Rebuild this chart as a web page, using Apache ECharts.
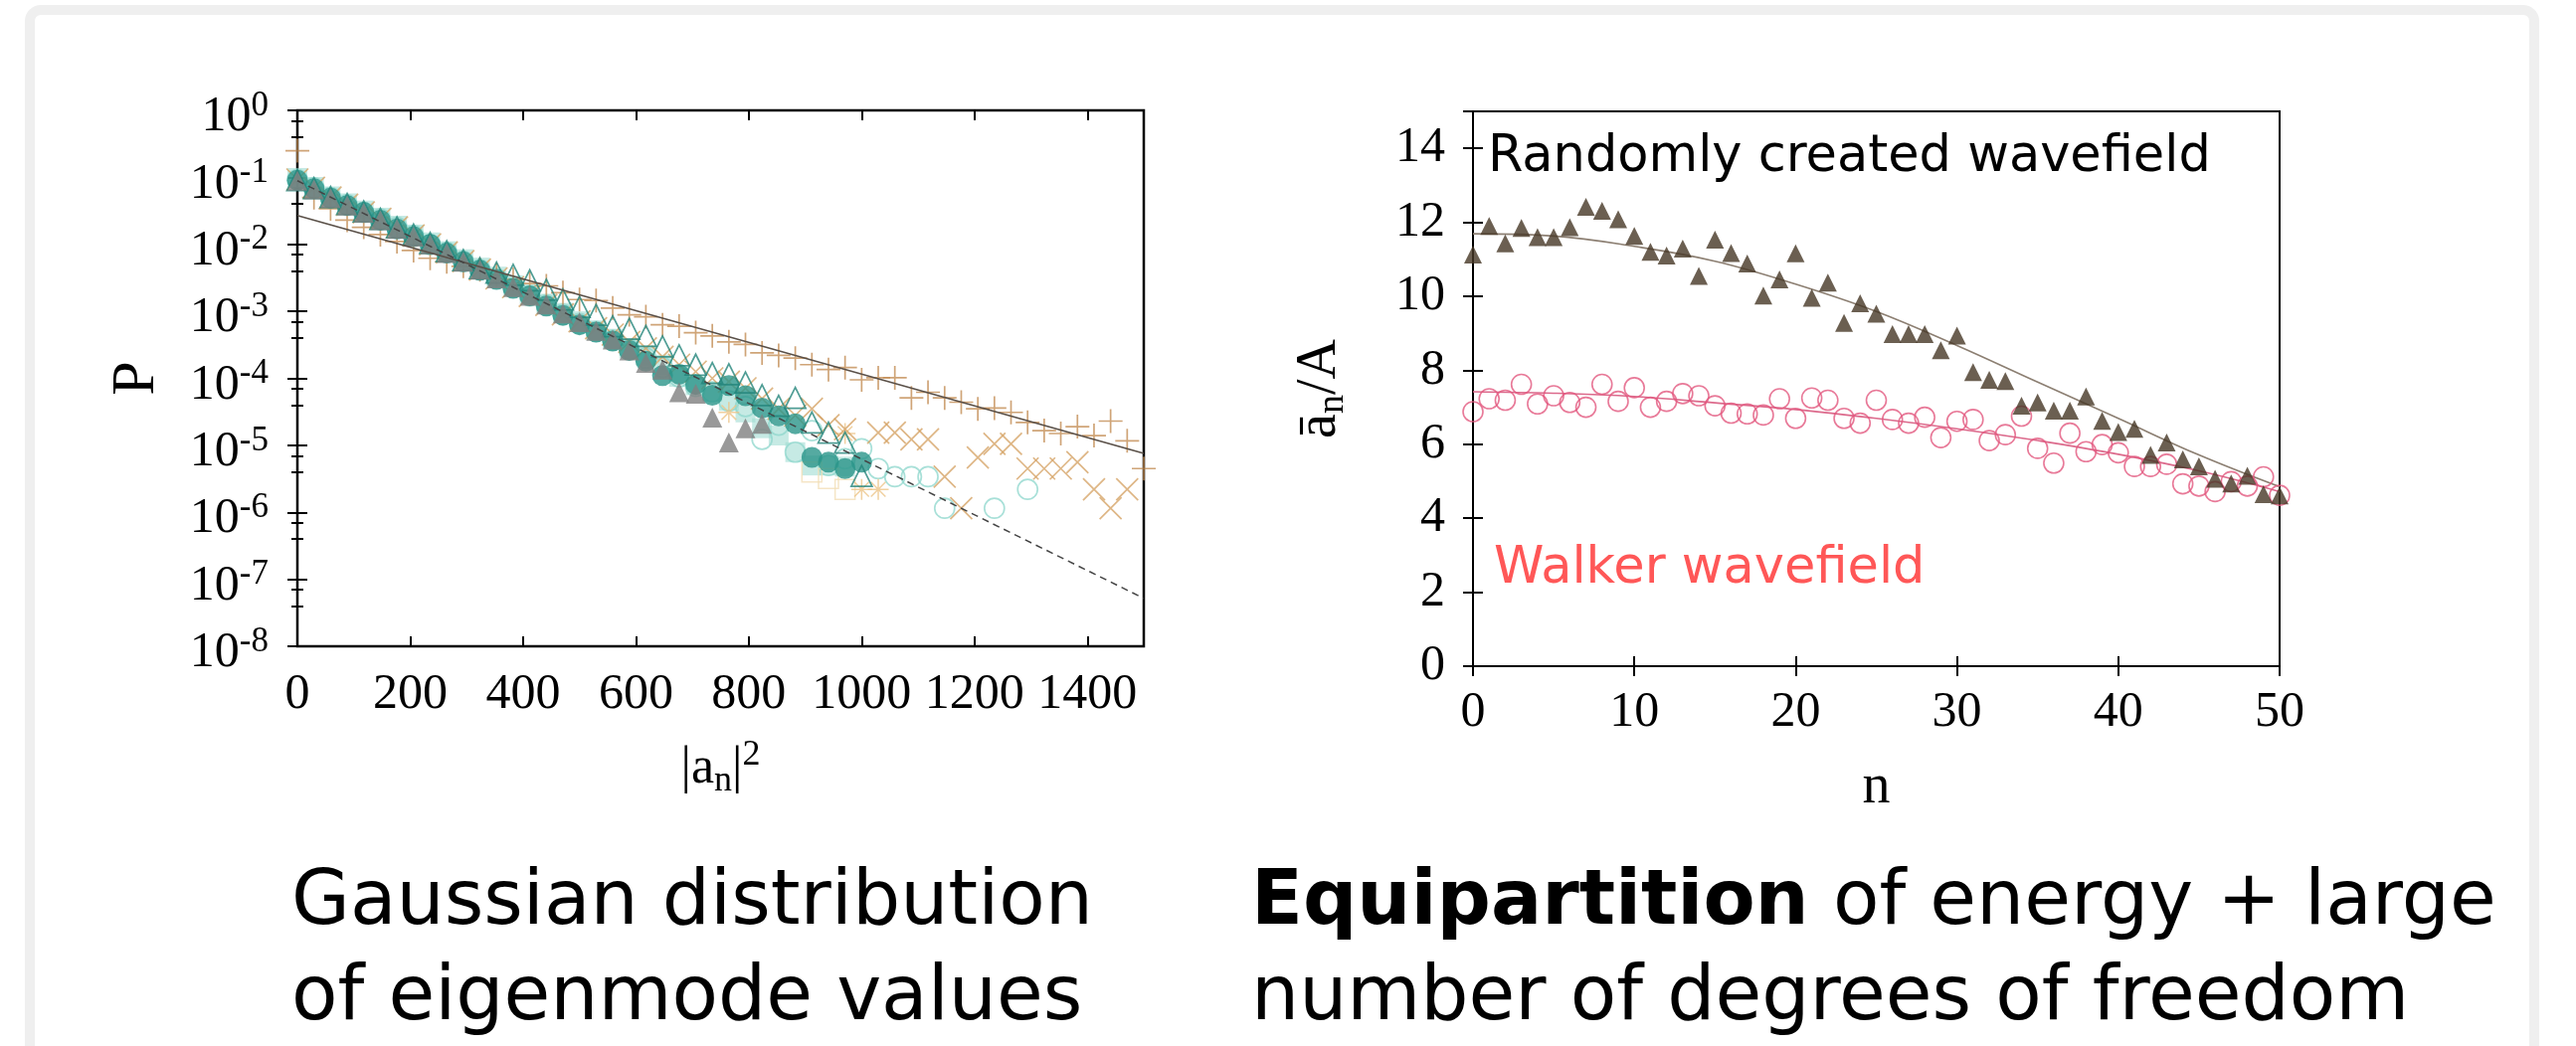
<!DOCTYPE html>
<html>
<head>
<meta charset="utf-8">
<script src="https://cdn.jsdelivr.net/npm/echarts@6/dist/echarts.min.js"></script>
<style>
  html, body { margin: 0; padding: 0; background: #fff; }
  #frame {
    position: absolute; left: 25px; top: 5px; width: 2528px; height: 1120px;
    border: 10px solid #efefef; border-radius: 16px; box-sizing: border-box;
  }
  #chart { position: absolute; left: 0; top: 0; width: 2590px; height: 1052px; }
</style>
</head>
<body>
<div id="frame"></div>
<div id="chart"></div>
<script>
// bin centres of |a_n|^2 (k * 1000/34)
const xBins = [0, 29.4, 58.8, 88.2, 117.6, 147.1, 176.5, 205.9, 235.3, 264.7, 294.1, 323.5, 352.9,
  382.4, 411.8, 441.2, 470.6, 500, 529.4, 558.8, 588.2, 617.6, 647.1, 676.5, 705.9, 735.3, 764.7,
  794.1, 823.5, 852.9, 882.4, 911.8, 941.2, 970.6, 1000, 1029.4, 1058.8, 1088.2, 1117.6, 1147.1,
  1176.5, 1205.9, 1235.3, 1264.7, 1294.1, 1323.5, 1352.9, 1382.4, 1411.8, 1441.2, 1470.6, 1500];

// left panel: P(|a_n|^2)
const pCircle = [9.1e-2, 6.8e-2, 4.9e-2, 3.8e-2, 3.0e-2, 2.3e-2, 1.7e-2, 1.3e-2, 1.0e-2, 7.4e-3,
  5.5e-3, 4.1e-3, 3.0e-3, 2.2e-3, 1.7e-3, 1.2e-3, 8.7e-4, 6.3e-4, 4.9e-4, 3.6e-4, 2.6e-4, 1.8e-4,
  1.1e-4, 1.15e-4, 8.1e-5, 5.6e-5, 7.8e-5, 5.5e-5, 3.6e-5, 2.75e-5, 2.1e-5, 6.6e-6, 5.6e-6, 4.5e-6, 5.6e-6];
const pTriGray = [8.9e-2, 6.6e-2, 4.9e-2, 3.8e-2, 2.95e-2, 2.3e-2, 1.7e-2, 1.3e-2, 1.0e-2, 7.4e-3,
  5.5e-3, 4.2e-3, 3.1e-3, 2.3e-3, 1.7e-3, 1.26e-3, 9.3e-4, 6.9e-4, 5.1e-4, 3.8e-4, 2.6e-4, 1.7e-4,
  1.35e-4, 6.2e-5, 5.9e-5, 2.6e-5, 1.1e-5, 1.8e-5, 2.1e-5];
const pTriOpen = [9.1e-2, 6.9e-2, 5.1e-2, 4.0e-2, 3.1e-2, 2.4e-2, 1.8e-2, 1.4e-2, 1.05e-2, 7.9e-3,
  5.8e-3, 4.4e-3, 3.8e-3, 3.5e-3, 2.9e-3, 2.1e-3, 1.5e-3, 1.17e-3, 8.9e-4, 6.0e-4, 5.5e-4, 4.3e-4,
  3.0e-4, 2.2e-4, 1.6e-4, 1.2e-4, 1.15e-4, 8.7e-5, 5.6e-5, 3.9e-5, 5.1e-5, 2.2e-5, 1.55e-5, 1.1e-5, 3.5e-6];
const pSquare = [9.8e-2, 7.2e-2, 5.2e-2, 4.1e-2, 3.2e-2, 2.5e-2, 1.9e-2, 1.4e-2, 1.07e-2, 7.9e-3,
  6.0e-3, 4.5e-3, 3.3e-3, 2.45e-3, 1.8e-3, 1.3e-3, 9.5e-4, 7.1e-4, 5.2e-4, 3.9e-4, 2.8e-4, 2.2e-4,
  1.6e-4, 1.05e-4, 7.9e-5, 6.3e-5, 4.6e-5, 3.1e-5, 1.8e-5, 1.4e-5, 7.9e-6, 5.0e-6, 5.0e-6, 4.8e-6];
const pRing = [9.3e-2, 7.0e-2, 5.0e-2, 3.9e-2, 3.0e-2, 2.4e-2, 1.8e-2, 1.35e-2, 1.0e-2, 7.6e-3,
  5.6e-3, 4.2e-3, 3.1e-3, 2.3e-3, 1.7e-3, 1.25e-3, 9.0e-4, 6.6e-4, 5.0e-4, 3.7e-4, 2.7e-4, 2.0e-4,
  1.45e-4, 1.05e-4, 7.6e-5, 6.3e-5, 4.6e-5, 3.8e-5, 1.23e-5, 2.0e-5, 7.9e-6, 1.66e-5, 5.0e-6, 6.3e-6,
  8.9e-6, 4.5e-6, 3.4e-6, 3.4e-6, 3.4e-6, 1.15e-6, null, null, 1.15e-6, null, 2.2e-6];
const pPlus = [2.5e-1, 5.0e-2, 3.4e-2, 2.3e-2, 1.8e-2, 1.4e-2, 1.1e-2, 8.1e-3, 6.2e-3, 5.5e-3,
  4.7e-3, 4.2e-3, 3.5e-3, 3.0e-3, 2.6e-3, 2.4e-3, 1.9e-3, 1.5e-3, 1.45e-3, 1.12e-3, 8.9e-4, 8.3e-4,
  6.3e-4, 6.0e-4, 4.8e-4, 4.3e-4, 3.5e-4, 3.2e-4, 2.4e-4, 2.2e-4, 2.0e-4, 1.6e-4, 1.35e-4, 1.45e-4,
  9.5e-5, 1.02e-4, 1.02e-4, 5.1e-5, 6.2e-5, 5.1e-5, 4.4e-5, 3.5e-5, 3.6e-5, 3.1e-5, 2.2e-5, 1.66e-5,
  1.5e-5, 1.9e-5, 1.4e-5, 2.3e-5, 1.17e-5, 4.5e-6];
const pCross = [9.3e-2, 7.0e-2, 5.0e-2, 3.9e-2, 3.0e-2, 2.4e-2, 1.8e-2, 1.35e-2, 1.0e-2, 7.6e-3,
  5.6e-3, 4.2e-3, 3.1e-3, 2.3e-3, 1.7e-3, 1.25e-3, 9.0e-4, 7.1e-4, 5.6e-4, 4.5e-4, 3.5e-4, 2.8e-4,
  2.1e-4, 1.6e-4, 1.26e-4, 1.0e-4, 8.9e-5, 7.1e-5, 5.0e-5, 3.5e-5, 2.8e-5, 3.5e-5, 2.0e-5, 1.74e-5,
  null, 1.55e-5, 1.55e-5, 1.23e-5, 1.23e-5, 3.4e-6, 1.15e-6, 6.6e-6, 1.05e-5, 1.05e-5, 4.5e-6,
  4.5e-6, 4.5e-6, 5.6e-6, 2.2e-6, 1.15e-6, 2.2e-6];
const pStar = [null, null, null, null, null, null, null, null, null, null, null, null, null, null,
  null, null, null, null, null, null, null, null, null, null, null, null, 3.1e-5, null, null, null,
  null, null, null, 1.5e-5, 2.2e-6, 2.2e-6];
const pSquareFaint = [null, null, null, null, null, null, null, null, null, null, null, null, null,
  null, null, null, null, null, null, null, null, null, null, null, null, null, null, null, null,
  null, null, 4.0e-6, 3.2e-6, 2.2e-6];
const fitSlow = [[0, 2.7e-2], [1500, 7.6e-6]];
const fitFast = [[0, 8.9e-2], [1500, 5.2e-8]];

// right panel: mode amplitudes
const nModes = [0, 1, 2, 3, 4, 5, 6, 7, 8, 9, 10, 11, 12, 13, 14, 15, 16, 17, 18, 19, 20, 21, 22, 23,
  24, 25, 26, 27, 28, 29, 30, 31, 32, 33, 34, 35, 36, 37, 38, 39, 40, 41, 42, 43, 44, 45, 46, 47, 48, 49, 50];
const aRandom = [11.13, 11.90, 11.43, 11.85, 11.60, 11.60, 11.87, 12.42, 12.31, 12.08, 11.63, 11.20,
  11.10, 11.29, 10.55, 11.53, 11.17, 10.89, 10.02, 10.46, 11.16, 9.96, 10.37, 9.28, 9.81, 9.53, 8.98,
  8.98, 8.98, 8.54, 8.94, 7.95, 7.74, 7.71, 7.04, 7.13, 6.91, 6.91, 7.29, 6.63, 6.33, 6.42, 5.71, 6.05,
  5.59, 5.40, 5.07, 4.94, 5.15, 4.65, 4.62];
const aWalker = [6.88, 7.23, 7.19, 7.62, 7.09, 7.31, 7.13, 7.00, 7.62, 7.16, 7.53, 7.00, 7.16, 7.37,
  7.31, 7.04, 6.84, 6.82, 6.79, 7.23, 6.70, 7.25, 7.19, 6.70, 6.57, 7.19, 6.67, 6.57, 6.73, 6.18, 6.62,
  6.67, 6.10, 6.26, 6.76, 5.89, 5.49, 6.30, 5.80, 5.99, 5.77, 5.40, 5.40, 5.46, 4.93, 4.87, 4.72, 4.99,
  4.87, 5.12, 4.62];
const nFit = [0, 5, 10, 15, 20, 25, 30, 35, 40, 45, 50];
const fitRandom = [11.69, 11.63, 11.35, 10.95, 10.33, 9.59, 8.67, 7.68, 6.70, 5.71, 4.85];
const fitWalker = [7.42, 7.38, 7.29, 7.12, 6.94, 6.70, 6.42, 6.10, 5.73, 5.28, 4.72];

const SERIF = 'Liberation Serif';
const SANS = 'DejaVu Sans';
const PLUS = 'path://M0,5L10,5M5,0L5,10';
const CROSS = 'path://M0,0L10,10M10,0L0,10';
const STAR = 'path://M0,5L10,5M5,0L5,10M1.5,1.5L8.5,8.5M8.5,1.5L1.5,8.5';

const pairs = (xs, ys) => ys.map((y, i) => (y == null ? null : [xs[i], y])).filter(Boolean);

const chart = echarts.init(document.getElementById('chart'), null, { renderer: 'canvas' });

const tickStyle = { inside: true, length: 10, lineStyle: { color: '#000', width: 2 } };
const labelFont = { fontFamily: SERIF, fontSize: 50, color: '#000', formatter: v => String(v) };

function scatter(name, data, symbol, size, style, xi, yi, z) {
  return {
    type: 'scatter', name, data, symbol, symbolSize: size, xAxisIndex: xi, yAxisIndex: yi,
    itemStyle: style, z: z, silent: true, animation: false
  };
}
const open = (c, w) => ({ color: 'rgba(0,0,0,0)', borderColor: c, borderWidth: w || 1.6 });

const option = {
  animation: false,
  grid: [
    { left: 299, top: 111, width: 851, height: 539, show: true, borderColor: '#000', borderWidth: 2.5, backgroundColor: 'transparent' },
    { left: 1481, top: 112, width: 811, height: 558, show: true, borderColor: '#000', borderWidth: 2, backgroundColor: 'transparent' }
  ],
  xAxis: [
    {
      type: 'value', gridIndex: 0, min: 0, max: 1500, interval: 200,
      axisLine: { show: false }, axisTick: tickStyle, splitLine: { show: false },
      axisLabel: Object.assign({ margin: 24, showMaxLabel: false }, labelFont),
      name: '{t||a}{sub|n}{t||}{sup|2}', nameLocation: 'middle', nameGap: 92,
      nameTextStyle: {
        rich: {
          t: { fontFamily: SERIF, fontSize: 52, color: '#000', lineHeight: 62 },
          sub: { fontFamily: SERIF, fontSize: 36, color: '#000', lineHeight: 30, verticalAlign: 'bottom' },
          sup: { fontFamily: SERIF, fontSize: 36, color: '#000', lineHeight: 26, verticalAlign: 'top' }
        }
      }
    },
    {
      type: 'value', gridIndex: 0, min: 0, max: 1500, interval: 200, position: 'top',
      axisLine: { show: false }, axisTick: tickStyle, axisLabel: { show: false }, splitLine: { show: false }
    },
    {
      type: 'value', gridIndex: 1, min: 0, max: 50, interval: 10,
      axisLine: { show: false }, axisTick: tickStyle, splitLine: { show: false },
      axisLabel: Object.assign({ margin: 22 }, labelFont),
      name: 'n', nameLocation: 'middle', nameGap: 94,
      nameTextStyle: { fontFamily: SERIF, fontSize: 56, color: '#000' }
    },
    {
      type: 'value', gridIndex: 1, min: 0, max: 50, interval: 10, position: 'top',
      axisLine: { show: false }, axisTick: tickStyle, axisLabel: { show: false }, splitLine: { show: false }
    }
  ],
  yAxis: [
    {
      type: 'log', logBase: 10, gridIndex: 0, min: 1e-8, max: 1, splitNumber: 8,
      axisLine: { show: false }, axisTick: tickStyle, splitLine: { show: false },
      minorTick: { show: true, splitNumber: 3, length: 6, lineStyle: { color: '#000', width: 2 } },
      axisLabel: {
        margin: 29, padding: [14, 0, 0, 0],
        formatter: v => '{b|10}{s|' + Math.round(Math.log10(v)) + '}',
        rich: {
          b: { fontFamily: SERIF, fontSize: 50, color: '#000', lineHeight: 58 },
          s: { fontFamily: SERIF, fontSize: 35, color: '#000', lineHeight: 26, verticalAlign: 'top' }
        }
      },
      name: 'P', nameLocation: 'middle', nameRotate: 90, nameGap: 130,
      nameTextStyle: { fontFamily: SERIF, fontSize: 62, color: '#000' }
    },
    {
      type: 'log', logBase: 10, gridIndex: 0, min: 1e-8, max: 1, splitNumber: 8, position: 'right',
      axisLine: { show: false }, axisTick: tickStyle, axisLabel: { show: false }, splitLine: { show: false },
      minorTick: { show: true, splitNumber: 3, length: 6, lineStyle: { color: '#000', width: 2 } }
    },
    {
      type: 'value', gridIndex: 1, min: 0, max: 15, interval: 2,
      axisLine: { show: false }, axisTick: tickStyle, splitLine: { show: false },
      axisLabel: Object.assign({ margin: 28, showMaxLabel: false }, labelFont),
      name: '{t|ā}{sub|n}{t|/A}', nameLocation: 'middle', nameRotate: 90, nameGap: 122,
      nameTextStyle: {
        rich: {
          t: { fontFamily: SERIF, fontSize: 56, color: '#000', lineHeight: 64 },
          sub: { fontFamily: SERIF, fontSize: 38, color: '#000', lineHeight: 30, verticalAlign: 'bottom' }
        }
      }
    },
    {
      type: 'value', gridIndex: 1, min: 0, max: 15, interval: 2, position: 'right',
      axisLine: { show: false }, axisTick: tickStyle, axisLabel: { show: false }, splitLine: { show: false }
    }
  ],
  series: [
    scatter('sq', pairs(xBins, pSquare), 'rect', 20, { color: 'rgba(160,220,210,0.75)' }, 0, 0, 2),
    scatter('ring', pairs(xBins, pRing), 'circle', 20, open('#92d8ce', 1.7), 0, 0, 3),
    scatter('sqf', pairs(xBins, pSquareFaint), 'rect', 20, open('#f3dfb8', 1.5), 0, 0, 3),
    scatter('star', pairs(xBins, pStar), STAR, 21, { color: 'none', borderColor: '#ecc488', borderWidth: 1.5 }, 0, 0, 3),
    scatter('cross', pairs(xBins, pCross), CROSS, 22, { color: 'none', borderColor: '#d6a466', borderWidth: 1.7 }, 0, 0, 4),
    scatter('plus', pairs(xBins, pPlus), PLUS, 24, { color: 'none', borderColor: '#c38d55', borderWidth: 1.7 }, 0, 0, 5),
    scatter('disc', pairs(xBins, pCircle), 'circle', 21, { color: '#2b958a' }, 0, 0, 6),
    scatter('tri', pairs(xBins, pTriOpen), 'triangle', 21, open('#23857b', 1.7), 0, 0, 7),
    scatter('triG', pairs(xBins, pTriGray), 'triangle', 20, { color: '#7f7f7f' }, 0, 0, 8),
    {
      type: 'line', data: fitSlow, xAxisIndex: 0, yAxisIndex: 0, symbol: 'none', z: 9, silent: true,
      lineStyle: { color: '#5a5048', width: 1.6 }
    },
    {
      type: 'line', data: fitFast, xAxisIndex: 0, yAxisIndex: 0, symbol: 'none', z: 9, silent: true,
      lineStyle: { color: '#444', width: 1.5, type: [7, 5] }
    },
    {
      type: 'line', data: nFit.map((n, i) => [n, fitRandom[i]]), xAxisIndex: 2, yAxisIndex: 2,
      symbol: 'none', smooth: 0.4, z: 4, silent: true, lineStyle: { color: '#8c7f72', width: 1.6 }
    },
    {
      type: 'line', data: nFit.map((n, i) => [n, fitWalker[i]]), xAxisIndex: 2, yAxisIndex: 2,
      symbol: 'none', smooth: 0.4, z: 4, silent: true, lineStyle: { color: '#dc6a8c', width: 1.6 }
    },
    scatter('walker', pairs(nModes, aWalker), 'circle', 20, open('#e2577e', 1.6), 2, 2, 5),
    scatter('random', pairs(nModes, aRandom), 'triangle', 18, { color: '#463726' }, 2, 2, 6)
  ],
  graphic: [
    { type: 'text', style: { text: 'Randomly created wavefield', x: 1496, y: 159, verticalAlign: 'middle', font: '51px "DejaVu Sans"', fill: '#000' }, z: 20 },
    { type: 'text', style: { text: 'Walker wavefield', x: 1502, y: 573, verticalAlign: 'middle', font: '51px "DejaVu Sans"', fill: '#ff5757' }, z: 20 },
    { type: 'text', style: { text: 'Gaussian distribution', x: 293, y: 909, verticalAlign: 'middle', font: '76px "DejaVu Sans"', fill: '#000' } },
    { type: 'text', style: { text: 'of eigenmode values', x: 293, y: 1005, verticalAlign: 'middle', font: '76px "DejaVu Sans"', fill: '#000' } },
    {
      type: 'text', style: {
        text: '{b|Equipartition} of energy + large', x: 1258, y: 909, verticalAlign: 'middle',
        font: '76px "DejaVu Sans"', fill: '#000',
        rich: { b: { fontFamily: SANS, fontSize: 76, fontWeight: 'bold', fill: '#000' } }
      }
    },
    { type: 'text', style: { text: 'number of degrees of freedom', x: 1258, y: 1005, verticalAlign: 'middle', font: '76px "DejaVu Sans"', fill: '#000' } }
  ]
};

chart.setOption(option);
</script>
</body>
</html>
